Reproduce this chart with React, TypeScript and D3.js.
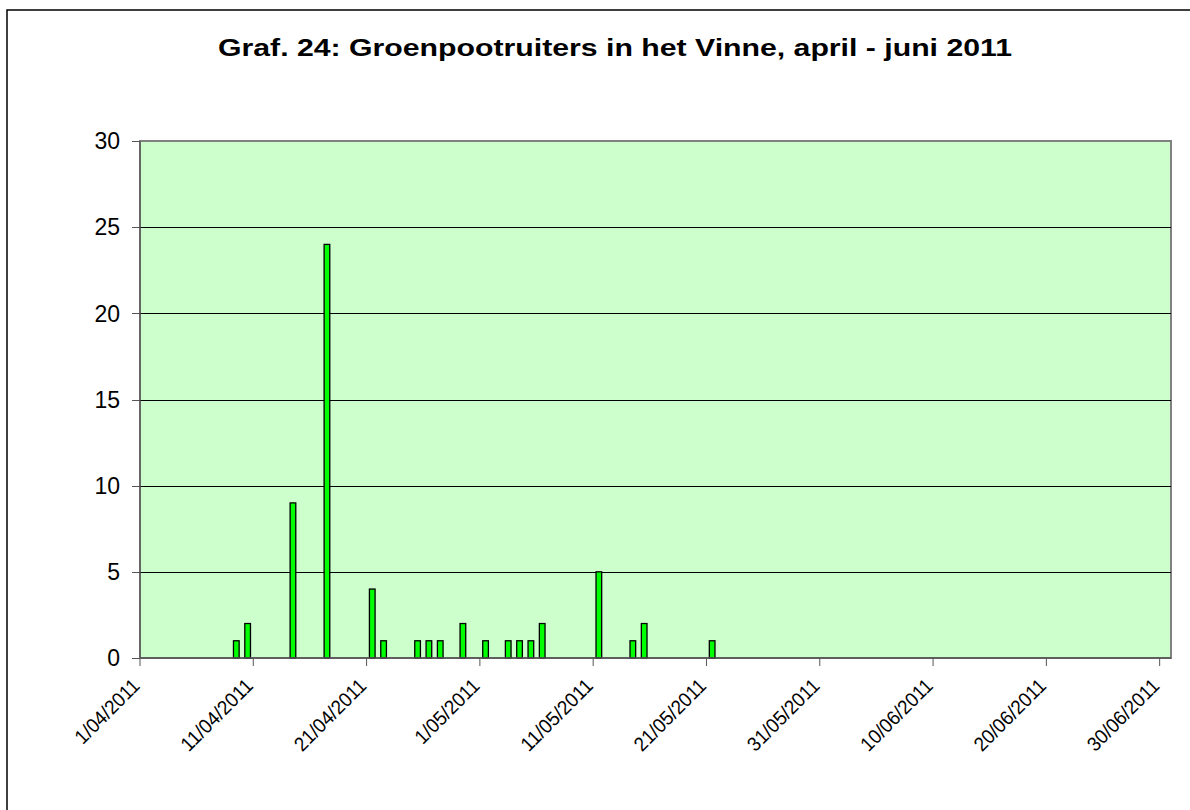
import React from "react";
import * as d3 from "d3";

const title = "Graf. 24: Groenpootruiters in het Vinne, april - juni 2011";
const dates = ["2011-04-09","2011-04-10","2011-04-14","2011-04-17","2011-04-21","2011-04-22","2011-04-25","2011-04-26","2011-04-27","2011-04-29","2011-05-01","2011-05-03","2011-05-04","2011-05-05","2011-05-06","2011-05-11","2011-05-14","2011-05-15","2011-05-21"];
const counts = [1,2,9,24,4,1,1,1,1,2,1,1,1,1,2,5,1,2,1];
const yTicks = [0,5,10,15,20,25,30];
const xTickDates = ["2011-04-01","2011-04-11","2011-04-21","2011-05-01","2011-05-11","2011-05-21","2011-05-31","2011-06-10","2011-06-20","2011-06-30"];
const xTickLabels = ["1/04/2011","11/04/2011","21/04/2011","1/05/2011","11/05/2011","21/05/2011","31/05/2011","10/06/2011","20/06/2011","30/06/2011"];

const parse = (s: string) => new Date(s + "T00:00:00");

function labelLength(s: string, size: number) {
  let w = 0;
  for (const c of s) w += c === "/" ? 0.278 : 0.556;
  return w * size;
}

export default function App() {
  const left = 140, right = 1171, top = 141, bottom = 658;
  const x = d3.scaleTime().domain([parse("2011-04-01"), parse("2011-07-01")]).range([left, right]);
  const y = d3.scaleLinear().domain([0, 30]).range([bottom, top]);
  const dayW = (right - left) / 91;
  const bw = dayW * 0.5;
  const font = "Arial, 'Liberation Sans', sans-serif";
  return (
    <svg width={1190} height={810} style={{ position: "absolute", left: 0, top: 0, background: "#fff" }}>
      <rect x={7} y={10} width={1200} height={820} fill="#fff" stroke="#000" strokeWidth={1.5} />
      <text x={615} y={56} textAnchor="middle" fontFamily={font} fontWeight="bold" fontSize={23} textLength={794} lengthAdjust="spacingAndGlyphs">{title}</text>
      <rect x={left} y={top} width={right - left} height={bottom - top} fill="#CCFFCC" stroke="#808080" strokeWidth={2} />
      {yTicks.filter(t => t > 0 && t < 30).map(t => (
        <line key={"g" + t} x1={left} x2={right} y1={Math.round(y(t)) + 0.5} y2={Math.round(y(t)) + 0.5} stroke="#000" strokeWidth={1} />
      ))}
      {yTicks.map(t => (
        <g key={"y" + t}>
          <line x1={left - 8} x2={left} y1={Math.round(y(t)) + 0.5} y2={Math.round(y(t)) + 0.5} stroke="#555" strokeWidth={1} />
          <text x={120} y={y(t)} dy="0.36em" textAnchor="end" fontFamily={font} fontSize={23}>{t}</text>
        </g>
      ))}
      {dates.map((d, i) => (
        <rect key={"b" + i} x={x(parse(d)) + (dayW - bw) / 2} y={y(counts[i])} width={bw} height={y(0) - y(counts[i])} fill="#00FF00" stroke="#000" strokeWidth={1.3} />
      ))}
      <line x1={left} x2={left} y1={top} y2={bottom} stroke="#555" strokeWidth={1.2} />
      <line x1={left} x2={right} y1={bottom} y2={bottom} stroke="#555" strokeWidth={1.5} />
      {xTickDates.map((d, i) => {
        const tx = x(parse(d));
        return (
          <g key={"x" + i}>
            <line x1={tx} x2={tx} y1={bottom} y2={bottom + 8} stroke="#555" strokeWidth={1} />
            <text transform={`translate(${tx + 1},${bottom + 29}) rotate(-45)`} textAnchor="end" fontFamily={font} fontSize={20} textLength={labelLength(xTickLabels[i], 18.5)} lengthAdjust="spacingAndGlyphs">{xTickLabels[i]}</text>
          </g>
        );
      })}
    </svg>
  );
}
